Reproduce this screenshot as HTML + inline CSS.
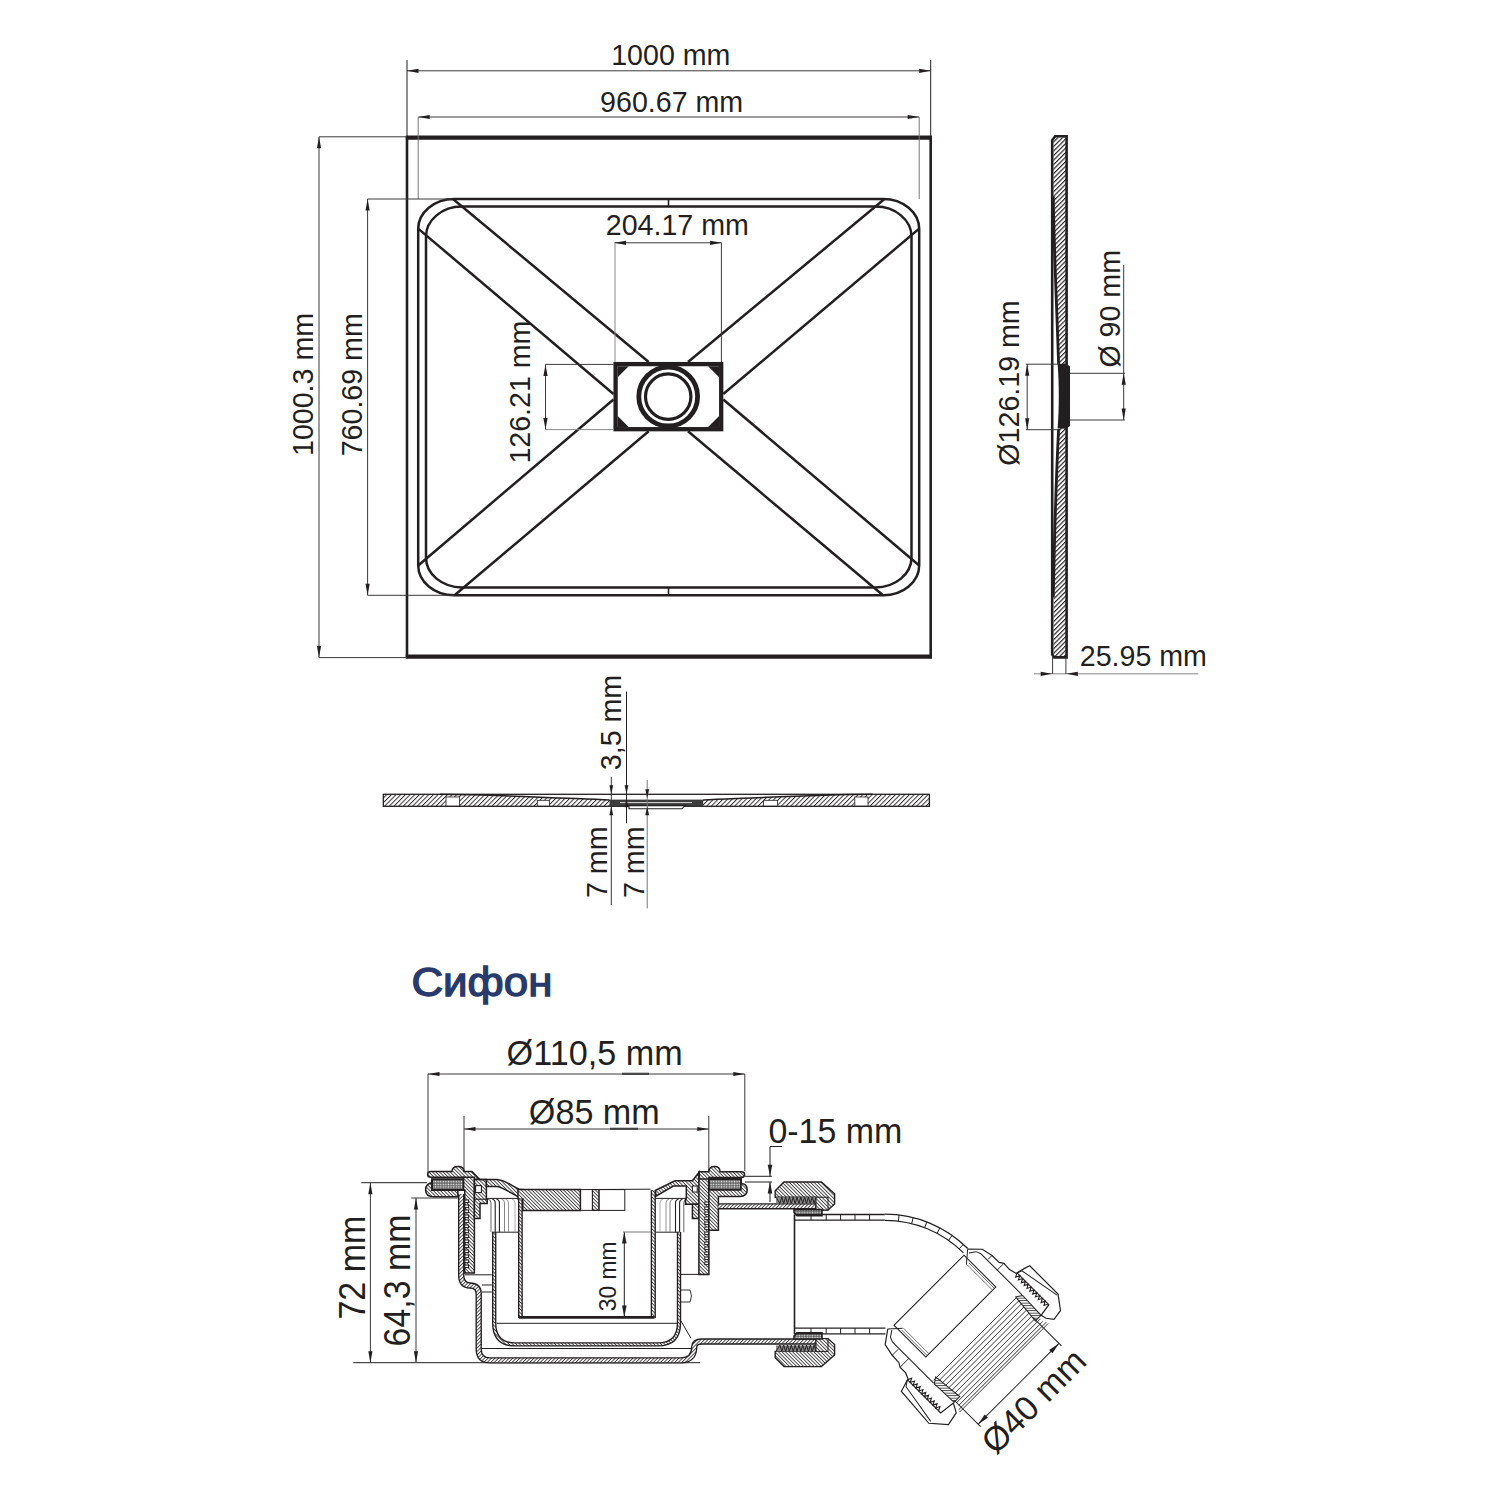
<!DOCTYPE html>
<html><head><meta charset="utf-8"><style>
html,body{margin:0;padding:0;background:#fff;}
svg{display:block;font-family:"Liberation Sans",sans-serif;}
</style></head><body>
<svg width="1500" height="1500" viewBox="0 0 1500 1500">
<rect width="1500" height="1500" fill="#fff"/>
<line x1="407" y1="136.1" x2="407" y2="658.2" stroke="#231f20" stroke-width="2.6"/>
<line x1="930.7" y1="136.1" x2="930.7" y2="658.2" stroke="#231f20" stroke-width="2.6"/>
<line x1="405.8" y1="137.6" x2="931.9" y2="137.6" stroke="#231f20" stroke-width="4.2"/>
<line x1="405.8" y1="656.7" x2="931.9" y2="656.7" stroke="#231f20" stroke-width="4.2"/>
<path d="M454.2,199 H883.2 A36,30 0 0 1 919.2,229 V565.3 A36,30 0 0 1 883.2,595.3 H454.2 A36,30 0 0 1 418.2,565.3 V229 A36,30 0 0 1 454.2,199 Z" fill="none" stroke="#231f20" stroke-width="2.5"/>
<path d="M462,206.6 H875.5 A36,30 0 0 1 911.5,236.6 V557.4 A36,30 0 0 1 875.5,587.4 H462 A36,30 0 0 1 426,557.4 V236.6 A36,30 0 0 1 462,206.6 Z" fill="none" stroke="#231f20" stroke-width="2.5"/>
<line x1="453" y1="199" x2="648.7" y2="362" stroke="#231f20" stroke-width="2.5"/>
<line x1="418.2" y1="228.6" x2="613.5" y2="394" stroke="#231f20" stroke-width="2.5"/>
<line x1="884.5" y1="199" x2="688" y2="362" stroke="#231f20" stroke-width="2.5"/>
<line x1="919.2" y1="228.6" x2="723.3" y2="394" stroke="#231f20" stroke-width="2.5"/>
<line x1="418.2" y1="565.5" x2="613.5" y2="399.5" stroke="#231f20" stroke-width="2.5"/>
<line x1="454.5" y1="595.3" x2="648.7" y2="431.3" stroke="#231f20" stroke-width="2.5"/>
<line x1="919.2" y1="565.5" x2="723.3" y2="399.5" stroke="#231f20" stroke-width="2.5"/>
<line x1="883" y1="595.3" x2="688" y2="431.3" stroke="#231f20" stroke-width="2.5"/>
<line x1="668.5" y1="199" x2="668.5" y2="206.6" stroke="#231f20" stroke-width="1.6"/>
<line x1="668.5" y1="587.4" x2="668.5" y2="595.3" stroke="#231f20" stroke-width="1.6"/>
<rect x="615.6" y="364.1" width="105.6" height="65.1" fill="#fff" stroke="#231f20" stroke-width="4.3"/>
<polygon points="617.7,366.2 628.7,366.2 617.7,377.2" fill="#231f20" stroke="none" stroke-width="0"/>
<polygon points="719.1,366.2 708.1,366.2 719.1,377.2" fill="#231f20" stroke="none" stroke-width="0"/>
<polygon points="617.7,427.1 628.7,427.1 617.7,416.1" fill="#231f20" stroke="none" stroke-width="0"/>
<polygon points="719.1,427.1 708.1,427.1 719.1,416.1" fill="#231f20" stroke="none" stroke-width="0"/>
<circle cx="668.2" cy="396.6" r="29.4" fill="none" stroke="#231f20" stroke-width="4.8"/>
<circle cx="668.2" cy="396.6" r="22.7" fill="none" stroke="#231f20" stroke-width="3.2"/>
<line x1="407" y1="70.8" x2="930.7" y2="70.8" stroke="#3a3a3a" stroke-width="1"/>
<polygon points="407,70.8 418.5,68.7 418.5,72.9" fill="#231f20" stroke="none" stroke-width="0"/>
<polygon points="930.7,70.8 919.2,72.9 919.2,68.7" fill="#231f20" stroke="none" stroke-width="0"/>
<line x1="407" y1="60" x2="407" y2="137.6" stroke="#231f20" stroke-width="1"/>
<line x1="930.7" y1="60" x2="930.7" y2="137.6" stroke="#231f20" stroke-width="1"/>
<line x1="418.2" y1="117" x2="919.2" y2="117" stroke="#3a3a3a" stroke-width="1"/>
<polygon points="418.2,117 429.7,114.9 429.7,119.1" fill="#231f20" stroke="none" stroke-width="0"/>
<polygon points="919.2,117 907.7,119.1 907.7,114.9" fill="#231f20" stroke="none" stroke-width="0"/>
<line x1="418.2" y1="117" x2="418.2" y2="199" stroke="#777" stroke-width="1"/>
<line x1="919.2" y1="117" x2="919.2" y2="199" stroke="#777" stroke-width="1"/>
<line x1="319" y1="136.8" x2="319" y2="657.6" stroke="#3a3a3a" stroke-width="1"/>
<polygon points="319,136.8 321.1,148.3 316.9,148.3" fill="#231f20" stroke="none" stroke-width="0"/>
<polygon points="319,657.6 316.9,646.1 321.1,646.1" fill="#231f20" stroke="none" stroke-width="0"/>
<line x1="319" y1="136.8" x2="407" y2="136.8" stroke="#3a3a3a" stroke-width="1"/>
<line x1="319" y1="657.6" x2="407" y2="657.6" stroke="#3a3a3a" stroke-width="1"/>
<line x1="367.6" y1="199" x2="367.6" y2="595.3" stroke="#3a3a3a" stroke-width="1"/>
<polygon points="367.6,199 369.7,210.5 365.5,210.5" fill="#231f20" stroke="none" stroke-width="0"/>
<polygon points="367.6,595.3 365.5,583.8 369.7,583.8" fill="#231f20" stroke="none" stroke-width="0"/>
<line x1="367.6" y1="199" x2="452" y2="199" stroke="#3a3a3a" stroke-width="1"/>
<line x1="367.6" y1="595.3" x2="454" y2="595.3" stroke="#3a3a3a" stroke-width="1"/>
<line x1="614.5" y1="242.8" x2="721.6" y2="242.8" stroke="#3a3a3a" stroke-width="1"/>
<polygon points="614.5,242.8 626,240.7 626,244.9" fill="#231f20" stroke="none" stroke-width="0"/>
<polygon points="721.6,242.8 710.1,244.9 710.1,240.7" fill="#231f20" stroke="none" stroke-width="0"/>
<line x1="615" y1="242.8" x2="615" y2="362" stroke="#888" stroke-width="1"/>
<line x1="721.4" y1="242.8" x2="721.4" y2="362" stroke="#3a3a3a" stroke-width="1"/>
<line x1="545.5" y1="364.4" x2="545.5" y2="429.6" stroke="#3a3a3a" stroke-width="1"/>
<polygon points="545.5,364.4 547.6,375.9 543.4,375.9" fill="#231f20" stroke="none" stroke-width="0"/>
<polygon points="545.5,429.6 543.4,418.1 547.6,418.1" fill="#231f20" stroke="none" stroke-width="0"/>
<line x1="545.5" y1="364.4" x2="613.5" y2="364.4" stroke="#3a3a3a" stroke-width="1"/>
<line x1="545.5" y1="429.6" x2="613.5" y2="429.6" stroke="#888" stroke-width="1"/>
<text x="0" y="0" transform="translate(670.8,64.9) rotate(0)" font-size="28.6" text-anchor="middle" fill="#231f20" font-weight="normal">1000 mm</text>
<text x="0" y="0" transform="translate(671.6,111.8) rotate(0)" font-size="28.6" text-anchor="middle" fill="#231f20" font-weight="normal">960.67 mm</text>
<text x="0" y="0" transform="translate(677.3,235.1) rotate(0)" font-size="28.6" text-anchor="middle" fill="#231f20" font-weight="normal">204.17 mm</text>
<text x="0" y="0" transform="translate(313.4,384.5) rotate(-90)" font-size="28.6" text-anchor="middle" fill="#231f20" font-weight="normal">1000.3 mm</text>
<text x="0" y="0" transform="translate(362,384.8) rotate(-90)" font-size="28.6" text-anchor="middle" fill="#231f20" font-weight="normal">760.69 mm</text>
<text x="0" y="0" transform="translate(529.7,392.1) rotate(-90)" font-size="28.6" text-anchor="middle" fill="#231f20" font-weight="normal">126.21 mm</text>
<defs><pattern id="hs" patternUnits="userSpaceOnUse" width="3.2" height="3.2" patternTransform="rotate(-45)"><rect width="3.2" height="3.2" fill="#fff"/><line x1="0" y1="0.6" x2="3.2" y2="0.6" stroke="#231f20" stroke-width="1.15"/></pattern><pattern id="hb" patternUnits="userSpaceOnUse" width="4.6" height="4.6" patternTransform="rotate(-45)"><rect width="4.6" height="4.6" fill="#fff"/><line x1="0" y1="0" x2="4.6" y2="0" stroke="#231f20" stroke-width="1.1"/></pattern><pattern id="hb2" patternUnits="userSpaceOnUse" width="3.3" height="3.3" patternTransform="rotate(-45)"><rect width="3.3" height="3.3" fill="#fff"/><line x1="0" y1="0.5" x2="3.3" y2="0.5" stroke="#231f20" stroke-width="0.9"/></pattern><pattern id="hc" patternUnits="userSpaceOnUse" width="3.4" height="3.4" patternTransform="rotate(45)"><rect width="3.4" height="3.4" fill="#fff"/><line x1="0" y1="0" x2="3.4" y2="0" stroke="#231f20" stroke-width="0.9"/></pattern><pattern id="dots" patternUnits="userSpaceOnUse" width="3" height="3"><rect width="3" height="3" fill="#fff"/><circle cx="1.5" cy="1.5" r="0.9" fill="#231f20"/></pattern></defs>
<path d="M1053.5,137.2 L1066.6,137.2 L1066.6,656.4 L1053.5,656.4 C1054,560 1057,470 1059,430 L1059,364 C1057,300 1054,250 1053.5,196.2 Z" fill="url(#hs)" stroke="none" stroke-width="0"/>
<path d="M1052.2,140.2 L1055.2,136.2 L1066.6,136.2 L1066.6,657.4 L1054.2,657.4 L1052.2,654.4 Z" fill="none" stroke="#231f20" stroke-width="2.6"/>
<path d="M1053.3,196.2 C1054,250 1056.5,300 1058.6,364 M1058.6,429 C1056.5,470 1054,560 1053.3,597.4" fill="none" stroke="#231f20" stroke-width="2.8"/>
<path d="M1057.6,364 L1066,363.6 L1070,366.5 V426 L1066,428.8 L1057.6,428.6 C1059.2,410 1059.2,383 1057.6,364 Z" fill="#231f20"/>
<line x1="1027.2" y1="364.2" x2="1027.2" y2="429.7" stroke="#3a3a3a" stroke-width="1"/>
<polygon points="1027.2,364.2 1029.3,375.7 1025.1,375.7" fill="#231f20" stroke="none" stroke-width="0"/>
<polygon points="1027.2,429.7 1025.1,418.2 1029.3,418.2" fill="#231f20" stroke="none" stroke-width="0"/>
<line x1="1025.8" y1="364.2" x2="1059" y2="364.2" stroke="#3a3a3a" stroke-width="1"/>
<line x1="1025.8" y1="429.7" x2="1059" y2="429.7" stroke="#3a3a3a" stroke-width="1"/>
<line x1="1123.7" y1="373.3" x2="1123.7" y2="420" stroke="#3a3a3a" stroke-width="1"/>
<polygon points="1123.7,373.3 1125.8,384.8 1121.6,384.8" fill="#231f20" stroke="none" stroke-width="0"/>
<polygon points="1123.7,420 1121.6,408.5 1125.8,408.5" fill="#231f20" stroke="none" stroke-width="0"/>
<line x1="1070" y1="373.3" x2="1125" y2="373.3" stroke="#3a3a3a" stroke-width="1"/>
<line x1="1070" y1="420" x2="1125" y2="420" stroke="#3a3a3a" stroke-width="1"/>
<line x1="1123.7" y1="265" x2="1123.7" y2="373.3" stroke="#3a3a3a" stroke-width="1"/>
<text x="0" y="0" transform="translate(1018.5,383) rotate(-90)" font-size="28.6" text-anchor="middle" fill="#231f20" font-weight="normal">Ø126.19 mm</text>
<text x="0" y="0" transform="translate(1119.5,308.8) rotate(-90)" font-size="28.6" text-anchor="middle" fill="#231f20" font-weight="normal">Ø 90 mm</text>
<line x1="1034" y1="673.8" x2="1198.3" y2="673.8" stroke="#888" stroke-width="1"/>
<polygon points="1052.2,673.8 1040.7,675.9 1040.7,671.7" fill="#231f20" stroke="none" stroke-width="0"/>
<polygon points="1066.3,673.8 1077.8,671.7 1077.8,675.9" fill="#231f20" stroke="none" stroke-width="0"/>
<line x1="1052.6" y1="657" x2="1052.6" y2="674" stroke="#3a3a3a" stroke-width="1"/>
<line x1="1065.9" y1="657" x2="1065.9" y2="674" stroke="#3a3a3a" stroke-width="1"/>
<text x="0" y="0" transform="translate(1143.3,665.8) rotate(0)" font-size="28.6" text-anchor="middle" fill="#231f20" font-weight="normal">25.95 mm</text>
<path d="M383.3,794.3 L440,794.3 C500,794.8 560,798 609.6,800 L703.2,800 C752.7,798 812.7,794.8 872.7,794.3 L929.4,794.3 L929.4,806.3 L383.3,806.3 Z" fill="url(#hb2)" stroke="none" stroke-width="0"/>
<rect x="446" y="797" width="13.4" height="9.3" fill="#fff" stroke="#231f20" stroke-width="0.8"/>
<rect x="537.3" y="800.3" width="12.2" height="6" fill="#fff" stroke="#231f20" stroke-width="0.8"/>
<rect x="763.5" y="800.3" width="14.1" height="6" fill="#fff" stroke="#231f20" stroke-width="0.8"/>
<rect x="854.8" y="797" width="13.2" height="9.3" fill="#fff" stroke="#231f20" stroke-width="0.8"/>
<rect x="383.3" y="794.3" width="546.1" height="12" fill="none" stroke="#231f20" stroke-width="1.3"/>
<rect x="609.6" y="799.6" width="93.6" height="6.7" fill="#3c3c3c"/>
<line x1="620" y1="802.6" x2="692" y2="802.6" stroke="#ddd" stroke-width="1"/>
<path d="M629,805.6 H685 L682,808.8 H629 Z" fill="#fff" stroke="#231f20" stroke-width="1.1"/>
<path d="M440,794.3 C500,794.8 560,798 609.6,800 M703.2,800 C752.7,798 812.7,794.8 872.7,794.3" fill="none" stroke="#231f20" stroke-width="1.5"/>
<line x1="611.3" y1="776.7" x2="611.3" y2="905" stroke="#3a3a3a" stroke-width="1"/>
<line x1="626.5" y1="691.7" x2="626.5" y2="823.3" stroke="#231f20" stroke-width="1"/>
<line x1="647.2" y1="780" x2="647.2" y2="908.3" stroke="#777" stroke-width="1"/>
<polygon points="611.3,794.3 609.4,785.3 613.2,785.3" fill="#231f20" stroke="none" stroke-width="0"/>
<polygon points="611.3,806.3 613.2,815.3 609.4,815.3" fill="#231f20" stroke="none" stroke-width="0"/>
<polygon points="626.5,794.3 624.6,785.3 628.4,785.3" fill="#231f20" stroke="none" stroke-width="0"/>
<polygon points="626.5,798.3 628.4,807.3 624.6,807.3" fill="#231f20" stroke="none" stroke-width="0"/>
<polygon points="647.2,798.3 645.3,789.3 649.1,789.3" fill="#231f20" stroke="none" stroke-width="0"/>
<polygon points="647.2,806.3 649.1,815.3 645.3,815.3" fill="#231f20" stroke="none" stroke-width="0"/>
<text x="0" y="0" transform="translate(620.5,722.5) rotate(-90)" font-size="28.6" text-anchor="middle" fill="#231f20" font-weight="normal">3,5 mm</text>
<text x="0" y="0" transform="translate(607,862.3) rotate(-90)" font-size="28.6" text-anchor="middle" fill="#231f20" font-weight="normal">7 mm</text>
<text x="0" y="0" transform="translate(643.5,862.3) rotate(-90)" font-size="28.6" text-anchor="middle" fill="#231f20" font-weight="normal">7 mm</text>
<text x="0" y="0" transform="translate(481.9,996.2) rotate(0)" font-size="40" text-anchor="middle" fill="#283a6c" font-weight="normal" textLength="141" lengthAdjust="spacingAndGlyphs" stroke="#283a6c" stroke-width="1.3">Сифон</text>
<defs><pattern id="sh" patternUnits="userSpaceOnUse" width="2.5" height="2.5" patternTransform="rotate(45)"><rect width="2.5" height="2.5" fill="#fff"/><line x1="0" y1="0.5" x2="2.5" y2="0.5" stroke="#231f20" stroke-width="0.8"/></pattern><pattern id="sh2" patternUnits="userSpaceOnUse" width="2.5" height="2.5" patternTransform="rotate(-45)"><rect width="2.5" height="2.5" fill="#fff"/><line x1="0" y1="0.5" x2="2.5" y2="0.5" stroke="#231f20" stroke-width="0.8"/></pattern><pattern id="sd" patternUnits="userSpaceOnUse" width="2.6" height="2.6"><rect width="2.6" height="2.6" fill="#6a6a6a"/><circle cx="1.3" cy="1.3" r="0.75" fill="#fff"/></pattern></defs>
<line x1="428" y1="1074" x2="744.8" y2="1074" stroke="#3a3a3a" stroke-width="1"/>
<polygon points="428,1074 439.5,1071.9 439.5,1076.1" fill="#231f20" stroke="none" stroke-width="0"/>
<polygon points="744.8,1074 733.3,1076.1 733.3,1071.9" fill="#231f20" stroke="none" stroke-width="0"/>
<line x1="622" y1="1073.8" x2="649" y2="1073.8" stroke="#444" stroke-width="2.2"/>
<line x1="428" y1="1074" x2="428" y2="1172" stroke="#3a3a3a" stroke-width="1"/>
<line x1="744.8" y1="1074" x2="744.8" y2="1171" stroke="#3a3a3a" stroke-width="1"/>
<line x1="464" y1="1129" x2="708.8" y2="1129" stroke="#3a3a3a" stroke-width="1"/>
<polygon points="464,1129 475.5,1126.9 475.5,1131.1" fill="#231f20" stroke="none" stroke-width="0"/>
<polygon points="708.8,1129 697.3,1131.1 697.3,1126.9" fill="#231f20" stroke="none" stroke-width="0"/>
<line x1="610" y1="1128.8" x2="638" y2="1128.8" stroke="#444" stroke-width="2.2"/>
<line x1="464" y1="1116" x2="464" y2="1186" stroke="#3a3a3a" stroke-width="1"/>
<line x1="708.8" y1="1116" x2="708.8" y2="1180" stroke="#3a3a3a" stroke-width="1"/>
<text x="0" y="0" transform="translate(594.6,1064.7) rotate(0)" font-size="34.5" text-anchor="middle" fill="#231f20" font-weight="normal" textLength="176" lengthAdjust="spacingAndGlyphs">Ø110,5 mm</text>
<text x="0" y="0" transform="translate(594.3,1123.5) rotate(0)" font-size="34.5" text-anchor="middle" fill="#231f20" font-weight="normal" textLength="131" lengthAdjust="spacingAndGlyphs">Ø85 mm</text>
<text x="0" y="0" transform="translate(835.4,1142.9) rotate(0)" font-size="34.5" text-anchor="middle" fill="#231f20" font-weight="normal" textLength="134" lengthAdjust="spacingAndGlyphs">0-15 mm</text>
<line x1="770" y1="1146.5" x2="782" y2="1146.5" stroke="#231f20" stroke-width="1"/>
<line x1="770" y1="1146.5" x2="770" y2="1176" stroke="#231f20" stroke-width="1"/>
<polygon points="770,1176.3 767.7,1164.8 772.3,1164.8" fill="#231f20" stroke="none" stroke-width="0"/>
<line x1="745" y1="1176.3" x2="772" y2="1176.3" stroke="#231f20" stroke-width="1"/>
<line x1="745" y1="1182" x2="772" y2="1182" stroke="#231f20" stroke-width="1"/>
<polygon points="770,1182 772.3,1193.5 767.7,1193.5" fill="#231f20" stroke="none" stroke-width="0"/>
<line x1="770" y1="1182" x2="770" y2="1202" stroke="#231f20" stroke-width="1"/>
<line x1="370.4" y1="1182.7" x2="370.4" y2="1362.7" stroke="#3a3a3a" stroke-width="1"/>
<polygon points="370.4,1182.7 372.5,1194.2 368.3,1194.2" fill="#231f20" stroke="none" stroke-width="0"/>
<polygon points="370.4,1362.7 368.3,1351.2 372.5,1351.2" fill="#231f20" stroke="none" stroke-width="0"/>
<line x1="361.3" y1="1182.7" x2="427" y2="1182.7" stroke="#231f20" stroke-width="1"/>
<line x1="353.3" y1="1362.7" x2="700" y2="1362.7" stroke="#231f20" stroke-width="1"/>
<line x1="416" y1="1198" x2="416" y2="1362.7" stroke="#3a3a3a" stroke-width="1"/>
<polygon points="416,1198 418.1,1209.5 413.9,1209.5" fill="#231f20" stroke="none" stroke-width="0"/>
<polygon points="416,1362.7 413.9,1351.2 418.1,1351.2" fill="#231f20" stroke="none" stroke-width="0"/>
<line x1="411.3" y1="1198" x2="458" y2="1198" stroke="#3a3a3a" stroke-width="1"/>
<text x="0" y="0" transform="translate(364.9,1267.6) rotate(-90)" font-size="36.2" text-anchor="middle" fill="#231f20" font-weight="normal" textLength="104" lengthAdjust="spacingAndGlyphs">72 mm</text>
<text x="0" y="0" transform="translate(410,1280.4) rotate(-90)" font-size="36.2" text-anchor="middle" fill="#231f20" font-weight="normal" textLength="132" lengthAdjust="spacingAndGlyphs">64,3 mm</text>
<line x1="624.3" y1="1232" x2="624.3" y2="1317" stroke="#231f20" stroke-width="1"/>
<polygon points="624.3,1232 626.6,1243.5 622,1243.5" fill="#231f20" stroke="none" stroke-width="0"/>
<polygon points="624.3,1317 622,1305.5 626.6,1305.5" fill="#231f20" stroke="none" stroke-width="0"/>
<line x1="623" y1="1232" x2="650.6" y2="1232" stroke="#777" stroke-width="1"/>
<text x="0" y="0" transform="translate(616,1276.3) rotate(-90)" font-size="24.4" text-anchor="middle" fill="#231f20" font-weight="normal" textLength="70" lengthAdjust="spacingAndGlyphs">30 mm</text>
<path d="M461.2,1194 V1275 Q461.2,1285.5 470,1285.5 Q478.7,1285.5 478.7,1294 V1349 Q478.7,1360.4 490,1360.4 H681 C692,1360.4 694.2,1353 694.2,1347 C694.2,1343 697,1341.5 702,1341.5 H817" fill="none" stroke="#231f20" stroke-width="6.4" stroke-linejoin="round"/>
<path d="M461.2,1194 V1275 Q461.2,1285.5 470,1285.5 Q478.7,1285.5 478.7,1294 V1349 Q478.7,1360.4 490,1360.4 H681 C692,1360.4 694.2,1353 694.2,1347 C694.2,1343 697,1341.5 702,1341.5 H817" fill="none" stroke="url(#sh2)" stroke-width="3.7" stroke-linejoin="round"/>
<path d="M433,1182.8 C427,1183 425.6,1186.5 425.6,1190 C425.6,1195 429,1196.8 434,1196.8 H457.9 V1190 H432 V1184 Z" fill="url(#sh)" stroke="#231f20" stroke-width="1.5"/>
<rect x="432" y="1179.2" width="31.6" height="10.8" fill="url(#sd)" stroke="#231f20" stroke-width="2"/>
<path d="M431,1171.6 H452 Q452,1166.4 458,1166.4 Q464,1166.4 464,1171.6 H472 L479.6,1179.2 H463.6 V1177.2 H431 Q427.6,1177.2 427.6,1174.4 Q427.6,1171.6 431,1171.6 Z" fill="url(#sh)" stroke="#231f20" stroke-width="1.5"/>
<path d="M463.6,1177.2 H474.4 V1273 H464.7 V1190 H463.6 Z" fill="url(#sh)" stroke="#231f20" stroke-width="1.5"/>
<rect x="464.8" y="1200" width="3.8" height="2.6" fill="#fff" stroke="#231f20" stroke-width="1"/>
<rect x="464.8" y="1205" width="3.8" height="2.6" fill="#fff" stroke="#231f20" stroke-width="1"/>
<rect x="464.8" y="1210" width="3.8" height="2.6" fill="#fff" stroke="#231f20" stroke-width="1"/>
<rect x="464.8" y="1215" width="3.8" height="2.6" fill="#fff" stroke="#231f20" stroke-width="1"/>
<rect x="464.8" y="1220" width="3.8" height="2.6" fill="#fff" stroke="#231f20" stroke-width="1"/>
<rect x="464.8" y="1225" width="3.8" height="2.6" fill="#fff" stroke="#231f20" stroke-width="1"/>
<rect x="464.8" y="1230" width="3.8" height="2.6" fill="#fff" stroke="#231f20" stroke-width="1"/>
<rect x="464.8" y="1235" width="3.8" height="2.6" fill="#fff" stroke="#231f20" stroke-width="1"/>
<rect x="464.8" y="1240" width="3.8" height="2.6" fill="#fff" stroke="#231f20" stroke-width="1"/>
<rect x="464.8" y="1245" width="3.8" height="2.6" fill="#fff" stroke="#231f20" stroke-width="1"/>
<rect x="464.8" y="1250" width="3.8" height="2.6" fill="#fff" stroke="#231f20" stroke-width="1"/>
<rect x="464.8" y="1255" width="3.8" height="2.6" fill="#fff" stroke="#231f20" stroke-width="1"/>
<rect x="464.8" y="1260" width="3.8" height="2.6" fill="#fff" stroke="#231f20" stroke-width="1"/>
<rect x="464.8" y="1265" width="3.8" height="2.6" fill="#fff" stroke="#231f20" stroke-width="1"/>
<path d="M474.4,1179.5 H486.4 V1199.2 H487.2 V1203.6 H480 V1218.4 H474.4 Z" fill="url(#sh)" stroke="#231f20" stroke-width="1.5"/>
<rect x="475.6" y="1185.6" width="5.8" height="7" fill="#fff" stroke="#231f20" stroke-width="1.1"/>
<line x1="474.4" y1="1199.2" x2="487.2" y2="1199.2" stroke="#231f20" stroke-width="1.1"/>
<path d="M479.6,1179.5 H497 C505,1180 512,1186 520,1189.6 H522.8 V1199 C515,1196.5 505,1187.5 497,1186.4 H486.4 V1179.5 Z" fill="url(#sh)" stroke="#231f20" stroke-width="1.5"/>
<path d="M518,1189.5 H580.4 V1210.4 H522.8 V1199 H518 Z" fill="url(#sh)" stroke="#231f20" stroke-width="1.5"/>
<rect x="592.4" y="1189.6" width="6.6" height="20.8" fill="url(#sh)" stroke="#231f20" stroke-width="1.1"/>
<rect x="599" y="1189.6" width="25.8" height="20.8" fill="none" stroke="#231f20" stroke-width="1"/>
<line x1="580.4" y1="1189.6" x2="650.6" y2="1189.2" stroke="#231f20" stroke-width="1"/>
<line x1="580.4" y1="1210.4" x2="599" y2="1210.4" stroke="#231f20" stroke-width="1"/>
<path d="M520.4,1198.4 V1318" fill="none" stroke="#231f20" stroke-width="4.8" stroke-linejoin="round"/>
<path d="M520.4,1198.4 V1318" fill="none" stroke="url(#sh)" stroke-width="2.1" stroke-linejoin="round"/>
<path d="M653.3,1190.2 V1318" fill="none" stroke="#231f20" stroke-width="5.2" stroke-linejoin="round"/>
<path d="M653.3,1190.2 V1318" fill="none" stroke="url(#sh)" stroke-width="2.5" stroke-linejoin="round"/>
<line x1="519" y1="1317.4" x2="654.5" y2="1317.4" stroke="#231f20" stroke-width="2.6"/>
<path d="M494.2,1232 V1323 Q494.2,1344.4 515,1344.4 H658 Q679,1344.4 679,1323 V1232" fill="none" stroke="#231f20" stroke-width="4.4" stroke-linejoin="round"/>
<path d="M494.2,1232 V1323 Q494.2,1344.4 515,1344.4 H658 Q679,1344.4 679,1323 V1232" fill="none" stroke="url(#sh)" stroke-width="1.7" stroke-linejoin="round"/>
<line x1="492" y1="1232.2" x2="518" y2="1232.2" stroke="#231f20" stroke-width="1"/>
<line x1="656" y1="1232.2" x2="679" y2="1232.2" stroke="#231f20" stroke-width="1"/>
<line x1="496.5" y1="1323.3" x2="677" y2="1323.3" stroke="#231f20" stroke-width="1"/>
<line x1="482" y1="1348.5" x2="691" y2="1348.5" stroke="#231f20" stroke-width="1"/>
<line x1="464.7" y1="1274.8" x2="491.8" y2="1274.8" stroke="#231f20" stroke-width="1"/>
<line x1="482" y1="1285" x2="491.8" y2="1285" stroke="#231f20" stroke-width="1"/>
<line x1="482" y1="1292" x2="491.8" y2="1292" stroke="#231f20" stroke-width="1"/>
<line x1="487.2" y1="1198.4" x2="518" y2="1198.4" stroke="#231f20" stroke-width="1"/>
<path d="M491,1232.2 V1203 Q491,1199.5 488,1199.2" fill="none" stroke="#555" stroke-width="0.9"/>
<path d="M495.2,1232.2 V1203 Q495.2,1199.5 492.2,1199.2" fill="none" stroke="#231f20" stroke-width="1.1"/>
<path d="M499.4,1232.2 V1203 Q499.4,1199.5 496.4,1199.2" fill="none" stroke="#231f20" stroke-width="1.1"/>
<path d="M504.5,1232.2 V1203 Q504.5,1199.5 501.5,1199.2" fill="none" stroke="#777" stroke-width="0.9"/>
<path d="M508.5,1232.2 V1203 Q508.5,1199.5 505.5,1199.2" fill="none" stroke="#888" stroke-width="0.9"/>
<path d="M515,1232.2 V1203 Q515,1199.5 512,1199.2" fill="none" stroke="#999" stroke-width="0.8"/>
<line x1="656" y1="1198.4" x2="686" y2="1198.4" stroke="#231f20" stroke-width="1"/>
<path d="M660,1232.2 V1203 Q660,1199.5 663,1199.2" fill="none" stroke="#999" stroke-width="0.8"/>
<path d="M666,1232.2 V1203 Q666,1199.5 669,1199.2" fill="none" stroke="#888" stroke-width="0.9"/>
<path d="M670,1232.2 V1203 Q670,1199.5 673,1199.2" fill="none" stroke="#777" stroke-width="0.9"/>
<path d="M675.5,1232.2 V1203 Q675.5,1199.5 678.5,1199.2" fill="none" stroke="#231f20" stroke-width="1.1"/>
<path d="M679.6,1232.2 V1203 Q679.6,1199.5 682.6,1199.2" fill="none" stroke="#231f20" stroke-width="1.1"/>
<path d="M683.8,1232.2 V1203 Q683.8,1199.5 686.8,1199.2" fill="none" stroke="#555" stroke-width="0.9"/>
<path d="M655.6,1196.5 V1190.3 L675,1180.8 H692.4 L699.3,1172 V1204.2 H685.5 V1199 H686.3 V1186 H673.3 Z" fill="url(#sh)" stroke="#231f20" stroke-width="1.5"/>
<rect x="692.4" y="1186" width="4.8" height="6" fill="#fff" stroke="#231f20" stroke-width="1"/>
<path d="M692.4,1204.2 H698.9 V1218.5 H692.4 Z" fill="url(#sh)" stroke="#231f20" stroke-width="1.5"/>
<path d="M698.9,1172 H708.9 V1274.4 H698.9 Z" fill="url(#sh)" stroke="#231f20" stroke-width="1.5"/>
<rect x="704.8" y="1202" width="3.8" height="2.6" fill="#fff" stroke="#231f20" stroke-width="1"/>
<rect x="704.8" y="1207" width="3.8" height="2.6" fill="#fff" stroke="#231f20" stroke-width="1"/>
<rect x="704.8" y="1212" width="3.8" height="2.6" fill="#fff" stroke="#231f20" stroke-width="1"/>
<rect x="704.8" y="1217" width="3.8" height="2.6" fill="#fff" stroke="#231f20" stroke-width="1"/>
<rect x="704.8" y="1222" width="3.8" height="2.6" fill="#fff" stroke="#231f20" stroke-width="1"/>
<rect x="704.8" y="1227" width="3.8" height="2.6" fill="#fff" stroke="#231f20" stroke-width="1"/>
<rect x="704.8" y="1232" width="3.8" height="2.6" fill="#fff" stroke="#231f20" stroke-width="1"/>
<rect x="704.8" y="1237" width="3.8" height="2.6" fill="#fff" stroke="#231f20" stroke-width="1"/>
<rect x="704.8" y="1242" width="3.8" height="2.6" fill="#fff" stroke="#231f20" stroke-width="1"/>
<rect x="704.8" y="1247" width="3.8" height="2.6" fill="#fff" stroke="#231f20" stroke-width="1"/>
<rect x="704.8" y="1252" width="3.8" height="2.6" fill="#fff" stroke="#231f20" stroke-width="1"/>
<rect x="704.8" y="1257" width="3.8" height="2.6" fill="#fff" stroke="#231f20" stroke-width="1"/>
<rect x="704.8" y="1262" width="3.8" height="2.6" fill="#fff" stroke="#231f20" stroke-width="1"/>
<line x1="681" y1="1274.4" x2="708.9" y2="1274.4" stroke="#231f20" stroke-width="1"/>
<path d="M699.3,1171.7 H708.9 Q708.9,1166.5 714.5,1166.5 Q720,1166.5 720,1171.7 H741.5 Q744.6,1171.7 744.6,1174.6 Q744.6,1177.5 741.5,1177.5 H708.9 V1179 H699.3 Z" fill="url(#sh)" stroke="#231f20" stroke-width="1.5"/>
<rect x="708.9" y="1179" width="32.1" height="10.9" fill="url(#sd)" stroke="#231f20" stroke-width="2"/>
<path d="M708.9,1190 H741 V1184 C745,1183 747.2,1186 747.2,1190 C747.2,1194.5 744,1196.4 740,1196.4 H718.4 V1230.2 H708.9 Z" fill="url(#sh)" stroke="#231f20" stroke-width="1.5"/>
<path d="M718.4,1206.3 H817" fill="none" stroke="#231f20" stroke-width="6.2" stroke-linejoin="round"/>
<path d="M718.4,1206.3 H817" fill="none" stroke="url(#sh2)" stroke-width="3.5" stroke-linejoin="round"/>
<line x1="681" y1="1321" x2="691" y2="1338.3" stroke="#231f20" stroke-width="1"/>
<path d="M681,1290 H690 Q693,1296 690,1302 H681" fill="none" stroke="#231f20" stroke-width="0.9"/>
<path d="M775.2,1190.8 L784,1182 L821.4,1182 L834.6,1193.7 L834.6,1204 L828,1210 L816,1210 L816,1197.2 L775.2,1197.2 Z" fill="url(#sh)" stroke="#231f20" stroke-width="1.4"/>
<rect x="776" y="1197.2" width="40" height="6" fill="#8a8a8a" stroke="none" stroke-width="0"/>
<path d="M776,1197.2 L779.9,1203.5 L781.8,1197.2 L783.7,1203.5 L785.6,1197.2 L787.5,1203.5 L789.4,1197.2 L791.3,1203.5 L793.2,1197.2 L795.1,1203.5 L797,1197.2 L798.9,1203.5 L800.8,1197.2 L802.7,1203.5 L804.6,1197.2 L806.5,1203.5 L808.4,1197.2 L810.3,1203.5 L812.2,1197.2 L814.1,1203.5 L816,1197.2" fill="none" stroke="#231f20" stroke-width="1"/>
<rect x="816" y="1197.2" width="12" height="12.8" fill="url(#sh)" stroke="#231f20" stroke-width="1"/>
<path d="M794,1209.6 L822,1209.6 L822,1215.7 L797,1215.7 L794,1212.5 Z" fill="url(#sd)" stroke="#231f20" stroke-width="1.6"/>
<path d="M775.2,1357.8 L784,1366.6 L821.4,1366.6 L834.6,1354.9 L834.6,1344.6 L828,1338.6 L816,1338.6 L816,1351.4 L775.2,1351.4 Z" fill="url(#sh)" stroke="#231f20" stroke-width="1.4"/>
<rect x="776" y="1345.4" width="40" height="6" fill="#8a8a8a" stroke="none" stroke-width="0"/>
<path d="M776,1351.4 L779.9,1345.1 L781.8,1351.4 L783.7,1345.1 L785.6,1351.4 L787.5,1345.1 L789.4,1351.4 L791.3,1345.1 L793.2,1351.4 L795.1,1345.1 L797,1351.4 L798.9,1345.1 L800.8,1351.4 L802.7,1345.1 L804.6,1351.4 L806.5,1345.1 L808.4,1351.4 L810.3,1345.1 L812.2,1351.4 L814.1,1345.1 L816,1351.4" fill="none" stroke="#231f20" stroke-width="1"/>
<rect x="816" y="1338.6" width="12" height="12.8" fill="url(#sh)" stroke="#231f20" stroke-width="1"/>
<path d="M794,1339 L822,1339 L822,1332.9 L797,1332.9 L794,1336.1 Z" fill="url(#sd)" stroke="#231f20" stroke-width="1.6"/>
<line x1="794.5" y1="1214.5" x2="794.5" y2="1334" stroke="#231f20" stroke-width="1.6"/>
<line x1="794.5" y1="1214.5" x2="884.8" y2="1214.5" stroke="#231f20" stroke-width="1.3"/>
<line x1="794.5" y1="1220.2" x2="884.8" y2="1220.2" stroke="#231f20" stroke-width="1.3"/>
<line x1="794.5" y1="1328.2" x2="885.4" y2="1328.2" stroke="#231f20" stroke-width="1.3"/>
<line x1="794.5" y1="1333.8" x2="885.4" y2="1333.8" stroke="#231f20" stroke-width="1.3"/>
<line x1="811" y1="1214.5" x2="811" y2="1220.2" stroke="#231f20" stroke-width="1"/>
<line x1="811" y1="1328.2" x2="811" y2="1333.8" stroke="#231f20" stroke-width="1"/>
<line x1="826.2" y1="1214.5" x2="826.2" y2="1220.2" stroke="#231f20" stroke-width="1"/>
<line x1="826.2" y1="1328.2" x2="826.2" y2="1333.8" stroke="#231f20" stroke-width="1"/>
<line x1="840.6" y1="1214.5" x2="840.6" y2="1220.2" stroke="#231f20" stroke-width="1"/>
<line x1="840.6" y1="1328.2" x2="840.6" y2="1333.8" stroke="#231f20" stroke-width="1"/>
<line x1="855" y1="1214.5" x2="855" y2="1220.2" stroke="#231f20" stroke-width="1"/>
<line x1="855" y1="1328.2" x2="855" y2="1333.8" stroke="#231f20" stroke-width="1"/>
<line x1="869.6" y1="1214.5" x2="869.6" y2="1220.2" stroke="#231f20" stroke-width="1"/>
<line x1="869.6" y1="1328.2" x2="869.6" y2="1333.8" stroke="#231f20" stroke-width="1"/>
<path d="M884.8,1214.2 A117.3,117.3 0 0 1 967.74,1248.56" fill="none" stroke="#231f20" stroke-width="1.3"/>
<path d="M884.8,1220.3 A111.2,111.2 0 0 1 963.43,1252.87" fill="none" stroke="#231f20" stroke-width="1.3"/>
<line x1="898.35" y1="1221.13" x2="899.1" y2="1215.07" stroke="#231f20" stroke-width="1"/>
<line x1="911.7" y1="1223.6" x2="913.18" y2="1217.68" stroke="#231f20" stroke-width="1"/>
<line x1="924.65" y1="1227.69" x2="926.84" y2="1221.99" stroke="#231f20" stroke-width="1"/>
<line x1="937.01" y1="1233.32" x2="939.87" y2="1227.93" stroke="#231f20" stroke-width="1"/>
<line x1="948.58" y1="1240.41" x2="952.08" y2="1235.41" stroke="#231f20" stroke-width="1"/>
<line x1="959.21" y1="1248.86" x2="963.29" y2="1244.33" stroke="#231f20" stroke-width="1"/>
<g transform="translate(964,1255.2) rotate(45)">
<path d="M0,0 H45 V99 H0 Z" fill="none" stroke="#231f20" stroke-width="1.1"/>
<path d="M9,2 H45 M9,4.5 H45 M9,94.5 H45 M9,97 H45" fill="none" stroke="#555" stroke-width="0.8"/>
<path d="M-1.7,-6.8 L8.8,-17.2 L20,-19.5 L30,-19.8 L34,-22.5 L42,-22 L50,-24" fill="none" stroke="#231f20" stroke-width="1.2"/>
<path d="M-1.8,106 L7.5,119 L20,121.5 L30,122 L34,124.5 L42,124.5 L48,127" fill="none" stroke="#231f20" stroke-width="1.2"/>
<path d="M11,-13 H69 M11,112 H69" fill="none" stroke="#231f20" stroke-width="1.1"/>
<path d="M-1.7,-6.8 L8.3,4.9 M-1.8,106 L8.3,95" fill="none" stroke="#231f20" stroke-width="1"/>
<path d="M2,-5 L6,-11 L11,-13 M2,104 L6,110 L11,112" fill="none" stroke="#231f20" stroke-width="1"/>
<path d="M20,-19.5 V-14 M34,-22.5 V-13 M20,121.5 V113 M34,124.5 V112" fill="none" stroke="#231f20" stroke-width="0.9"/>
<line x1="67" y1="-9" x2="67" y2="110" stroke="#231f20" stroke-width="0.85"/>
<line x1="71" y1="-9" x2="71" y2="110" stroke="#231f20" stroke-width="0.85"/>
<line x1="75" y1="-9" x2="75" y2="110" stroke="#231f20" stroke-width="0.85"/>
<line x1="79" y1="-9" x2="79" y2="110" stroke="#231f20" stroke-width="0.85"/>
<line x1="83" y1="-9" x2="83" y2="110" stroke="#231f20" stroke-width="0.85"/>
<line x1="87" y1="-9" x2="87" y2="110" stroke="#231f20" stroke-width="0.85"/>
<line x1="91" y1="-9" x2="91" y2="110" stroke="#231f20" stroke-width="0.85"/>
<line x1="95" y1="-9" x2="95" y2="110" stroke="#231f20" stroke-width="0.85"/>
<line x1="99" y1="-9" x2="99" y2="110" stroke="#231f20" stroke-width="0.85"/>
<line x1="102.5" y1="-9" x2="102.5" y2="110" stroke="#231f20" stroke-width="0.85"/>
<line x1="105.5" y1="-11" x2="105.5" y2="113" stroke="#231f20" stroke-width="0.85"/>
<line x1="107.8" y1="-11" x2="107.8" y2="114" stroke="#231f20" stroke-width="0.85"/>
<path d="M66,-7 L70,-13 L97,-12 L97,-4 Z" fill="url(#sh2)" stroke="#231f20" stroke-width="1"/>
<path d="M66,106 L70,112 L97,111 L97,103 Z" fill="url(#sh2)" stroke="#231f20" stroke-width="1"/>
<path d="M50,-25 L52,-33 L54,-39 L94,-39 L107.5,-29 L109,-18.3 L102.6,-13.4 L97,-12 L95,-25 Z" fill="#fff" stroke="#231f20" stroke-width="1.2"/>
<path d="M50,-25 L52,-30 L94,-37.5" fill="none" stroke="#231f20" stroke-width="1"/>
<path d="M48,128 L52,140.5 L94,143.7 L108.8,130.8 L106,117 L97,112 L95,128 Z" fill="#fff" stroke="#231f20" stroke-width="1.2"/>
<path d="M48,128 L52,134 L94,141" fill="none" stroke="#231f20" stroke-width="1"/>
<path d="M50,-25 L52,-21 L54,-25 L56,-21 L58,-25 L60,-21 L62,-25 L64,-21 L66,-25 L68,-21 L70,-25 L72,-21 L74,-25 L76,-21 L78,-25 L80,-21 L82,-25 L84,-21 L86,-25 L88,-21 L90,-25 L92,-21 L94,-25" fill="none" stroke="#231f20" stroke-width="1.1"/>
<path d="M48,128 L50,124 L52,128 L54,124 L56,128 L58,124 L60,128 L62,124 L64,128 L66,124 L68,128 L70,124 L72,128 L74,124 L76,128 L78,124 L80,128 L82,124 L84,128 L86,124 L88,128 L90,124 L92,128" fill="none" stroke="#231f20" stroke-width="1.1"/>
<line x1="93" y1="-4.8" x2="133" y2="-4.8" stroke="#231f20" stroke-width="1"/>
<line x1="96" y1="109.5" x2="133" y2="109.5" stroke="#231f20" stroke-width="1"/>
<line x1="129.5" y1="-4.8" x2="129.5" y2="109.5" stroke="#231f20" stroke-width="1"/>
<polygon points="129.5,-4.8 131.8,6.7 127.2,6.7" fill="#231f20" stroke="none" stroke-width="0"/>
<polygon points="129.5,109.5 127.2,98 131.8,98" fill="#231f20" stroke="none" stroke-width="0"/>
</g>
<text x="0" y="0" transform="translate(1042,1409.5) rotate(-45)" font-size="34.5" text-anchor="middle" fill="#231f20" font-weight="normal" textLength="131" lengthAdjust="spacingAndGlyphs">Ø40 mm</text>
</svg></body></html>
